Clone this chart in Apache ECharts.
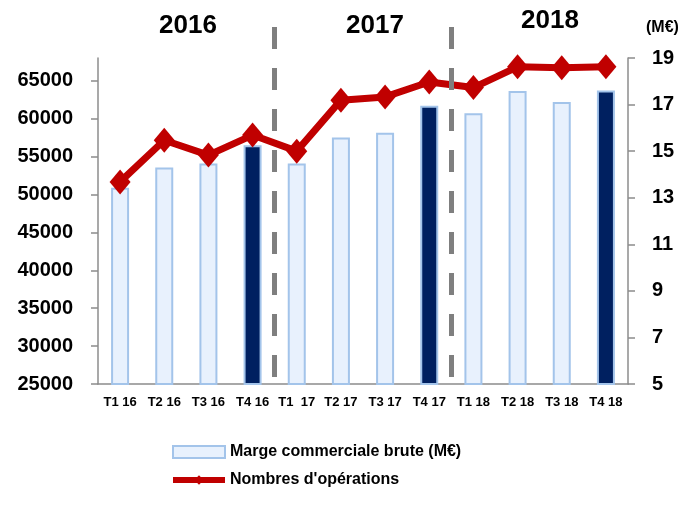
<!DOCTYPE html>
<html>
<head>
<meta charset="utf-8">
<script src="https://cdn.jsdelivr.net/npm/echarts@6/dist/echarts.min.js"></script>
<style>
  html, body { margin: 0; padding: 0; background: #fff; }
  #chart { width: 684px; height: 511px; }
</style>
</head>
<body>
<div id="chart"></div>
<script>
// data
const quarters = ['T1 16', 'T2 16', 'T3 16', 'T4 16', 'T1  17', 'T2 17', 'T3 17', 'T4 17', 'T1 18', 'T2 18', 'T3 18', 'T4 18'];
const marge = [50900, 53550, 54100, 56500, 54100, 57500, 58150, 61700, 60700, 63650, 62200, 63700];
const operations = [13.68, 15.47, 14.83, 15.69, 15.0, 17.19, 17.33, 17.97, 17.73, 18.62, 18.58, 18.62];
const darkQuarters = ['T4 16', 'T4 17', 'T4 18'];
const years = ['2016', '2017', '2018'];
const yearBreaks = [4, 8];

const FONT = 'Liberation Sans';
const chart = echarts.init(document.getElementById('chart'), null, { renderer: 'canvas' });

const barData = marge.map((v, i) => darkQuarters.includes(quarters[i])
  ? { value: v, itemStyle: { color: '#002060' } }
  : v);

const yearPos = [[189, 28], [376, 28], [551, 23]];

const option = {
  backgroundColor: '#fff',
  animation: false,
  textStyle: { fontFamily: FONT },
  grid: { left: 98, right: 56, top: 58, bottom: 127 },
  legend: {
    orient: 'vertical',
    left: 165,
    top: 439,
    itemWidth: 52,
    itemHeight: 12,
    itemGap: 12,
    textStyle: { fontFamily: FONT, fontWeight: 'bold', fontSize: 16, color: '#000' },
    data: [
      { name: 'Marge commerciale brute (M€)', icon: 'rect', itemStyle: { color: '#E8F1FD', borderColor: '#A3C4EA', borderWidth: 2 } },
      { name: "Nombres d'opérations", lineStyle: { width: 6 } }
    ]
  },
  xAxis: [
    {
      type: 'category',
      data: quarters,
      axisLine: { lineStyle: { color: '#8C8C8C', width: 1.5 } },
      axisTick: { length: 6, lineStyle: { color: '#8C8C8C', width: 1.5 } },
      axisLabel: { fontFamily: FONT, fontWeight: 'bold', fontSize: 13, color: '#000', margin: 12, interval: 0 }
    },
    { type: 'value', min: 0, max: 12, show: false }
  ],
  yAxis: [
    {
      type: 'value',
      min: 25000,
      max: 68000,
      interval: 5000,
      splitLine: { show: false },
      axisLine: { show: true, lineStyle: { color: '#8C8C8C', width: 1.5 } },
      axisTick: { show: true, length: 7, lineStyle: { color: '#8C8C8C', width: 1.5 } },
      axisLabel: {
        fontFamily: FONT, fontWeight: 'bold', fontSize: 20, color: '#000', margin: 25,
        showMaxLabel: false,
        formatter: v => String(v)
      }
    },
    {
      type: 'value',
      min: 5,
      max: 19,
      interval: 2,
      position: 'right',
      splitLine: { show: false },
      axisLine: { show: true, lineStyle: { color: '#8C8C8C', width: 1.5 } },
      axisTick: { show: true, length: 7, lineStyle: { color: '#8C8C8C', width: 1.5 } },
      axisLabel: { fontFamily: FONT, fontWeight: 'bold', fontSize: 20, color: '#000', margin: 24 }
    }
  ],
  series: [
    {
      name: 'Marge commerciale brute (M€)',
      type: 'bar',
      barWidth: 18,
      data: barData,
      itemStyle: { color: '#E8F1FD', borderColor: '#A3C4EA', borderWidth: 2 }
    },
    {
      name: "Nombres d'opérations",
      type: 'line',
      yAxisIndex: 1,
      data: operations,
      symbol: 'diamond',
      symbolSize: [21, 25],
      lineStyle: { color: '#C00000', width: 7 },
      itemStyle: { color: '#C00000' },
      z: 3
    },
    {
      name: 'separateurs',
      type: 'line',
      xAxisIndex: 1,
      data: [],
      silent: true,
      z: 5,
      markLine: {
        silent: true,
        symbol: 'none',
        label: { show: false },
        lineStyle: { color: '#7F7F7F', width: 5, type: [22, 19] },
        data: yearBreaks.map(b => [{ xAxis: b, y: 27 }, { xAxis: b, y: 384 }])
      }
    }
  ],
  graphic: years.map((y, i) => ({
    type: 'text',
    left: yearPos[i][0] - 30,
    top: yearPos[i][1] - 15,
    style: { text: y, fontFamily: FONT, fontWeight: 'bold', fontSize: 26, fill: '#000', width: 60, align: 'center' }
  })).concat([{
    type: 'text',
    left: 646,
    top: 20,
    style: { text: '(M€)', fontFamily: FONT, fontWeight: 'bold', fontSize: 16, fill: '#000' }
  }])
};

chart.setOption(option);
window.addEventListener('resize', () => chart.resize());
</script>
</body>
</html>
